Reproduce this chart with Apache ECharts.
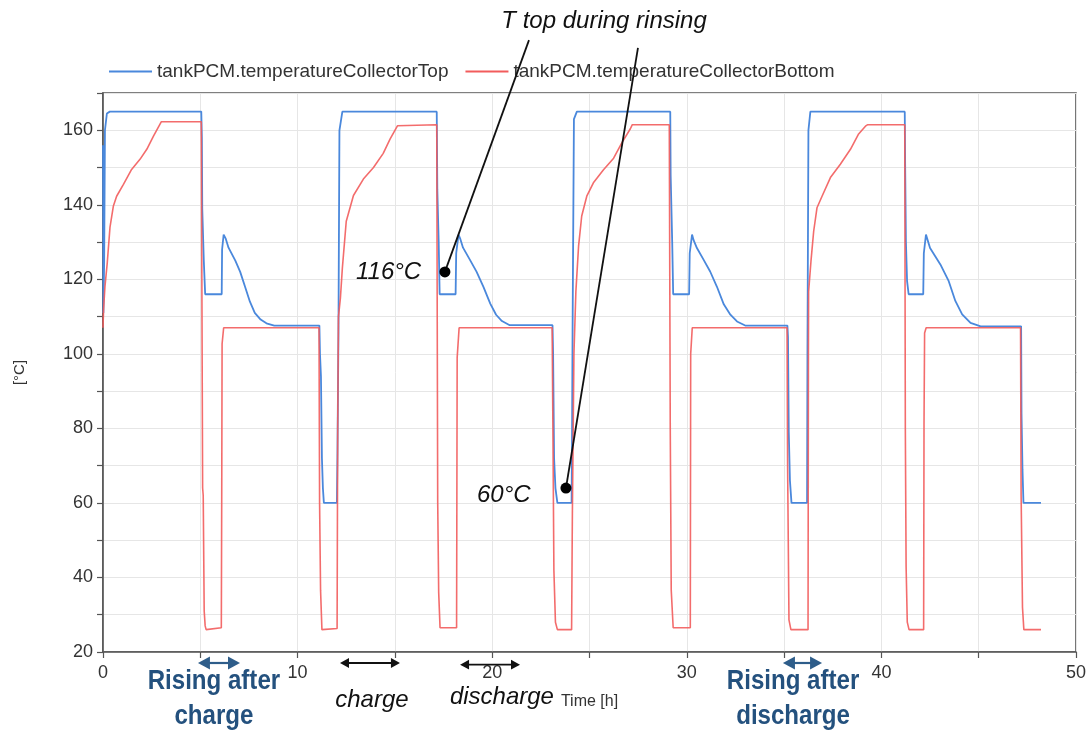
<!DOCTYPE html>
<html>
<head>
<meta charset="utf-8">
<script src="https://cdn.jsdelivr.net/npm/echarts@6/dist/echarts.min.js"></script>
<style>
  html, body { margin: 0; padding: 0; background: #ffffff; }
  #chart { width: 1092px; height: 731px; }
</style>
</head>
<body>
<div id="chart"></div>
<script>
// Series names as they appear in the legend
const seriesNames = ['tankPCM.temperatureCollectorTop', 'tankPCM.temperatureCollectorBottom'];

// Top collector temperature [h, °C]
const topTemp = [
  [0, 156], [0.02, 111], [0.06, 125], [0.1, 160], [0.2, 164.5], [0.35, 165],
  [5.05, 165], [5.08, 158], [5.1, 139], [5.18, 125], [5.25, 116],
  [6.1, 116], [6.12, 128], [6.2, 132], [6.3, 131], [6.45, 128.5], [6.8, 125], [7.05, 122],
  [7.3, 118], [7.55, 114], [7.8, 111], [8.1, 109.2], [8.4, 108.2], [8.8, 107.6],
  [11.12, 107.6], [11.15, 100], [11.2, 94], [11.25, 72], [11.3, 64], [11.35, 60],
  [12.02, 60], [12.05, 74], [12.1, 106], [12.15, 160], [12.3, 165],
  [17.15, 165], [17.18, 144], [17.25, 130], [17.3, 116],
  [18.12, 116], [18.15, 127], [18.27, 132], [18.35, 131], [18.5, 128.5], [18.85, 125.3],
  [19.2, 122], [19.55, 118], [19.9, 113.5], [20.2, 110.5], [20.5, 108.8], [20.9, 107.7],
  [23.1, 107.7], [23.13, 100], [23.18, 72], [23.25, 64], [23.35, 60],
  [24.08, 60], [24.1, 75], [24.13, 106], [24.2, 163], [24.35, 165],
  [29.15, 165], [29.17, 148], [29.25, 130], [29.3, 116],
  [30.12, 116], [30.15, 127], [30.27, 132], [30.35, 130.5], [30.52, 128.4], [30.86, 125.3],
  [31.2, 122.1], [31.55, 118], [31.9, 113.3], [32.24, 110.5], [32.58, 108.7], [33.0, 107.6],
  [35.17, 107.6], [35.2, 104.5], [35.24, 79], [35.3, 66], [35.38, 60],
  [36.18, 60], [36.2, 100], [36.25, 160], [36.35, 165],
  [41.2, 165], [41.22, 151], [41.26, 130], [41.32, 119.5], [41.4, 116],
  [42.15, 116], [42.18, 127], [42.29, 132], [42.5, 128.4], [43.03, 124], [43.46, 119.5],
  [43.8, 114.2], [44.15, 110.6], [44.58, 108.3], [45.1, 107.4],
  [47.18, 107.4], [47.2, 84], [47.25, 69], [47.3, 60], [48.2, 60]
];

// Bottom collector temperature [h, °C]
const bottomTemp = [
  [0, 107], [0.03, 112], [0.1, 118], [0.22, 124.5], [0.36, 134], [0.53, 139.6], [0.7, 142.3],
  [1.05, 145.5], [1.47, 149.5], [1.9, 152.2], [2.25, 154.9], [2.6, 158.5], [3.0, 162.3],
  [5.05, 162.3], [5.08, 120], [5.12, 64], [5.15, 62], [5.2, 31], [5.25, 27], [5.3, 26],
  [6.08, 26.5], [6.1, 60], [6.12, 102.7], [6.2, 107],
  [11.1, 107], [11.13, 60], [11.18, 36.6], [11.25, 26],
  [12.03, 26.3], [12.06, 80], [12.1, 110], [12.2, 115], [12.3, 123], [12.5, 135.6],
  [12.87, 142.5], [13.38, 146.9], [13.9, 150], [14.4, 153.8], [14.75, 157.6], [15.13, 161.2], [15.2, 161.5],
  [17.15, 161.5], [17.2, 60], [17.25, 36], [17.32, 26.5],
  [18.17, 26.5], [18.2, 99], [18.3, 107],
  [23.08, 107], [23.12, 80], [23.17, 42], [23.25, 28], [23.35, 26],
  [24.08, 26], [24.12, 57], [24.2, 100], [24.3, 116.7], [24.44, 129], [24.6, 137], [24.86, 142.3],
  [25.2, 145.9], [25.72, 149.4], [26.24, 152.5], [26.66, 156.6], [27.1, 160.4], [27.2, 161.5],
  [29.1, 161.5], [29.15, 80], [29.2, 36.6], [29.3, 26.5],
  [30.18, 26.5], [30.2, 100], [30.28, 107],
  [35.15, 107], [35.18, 70], [35.25, 28.6], [35.35, 26],
  [36.23, 26], [36.25, 99.4], [36.26, 116.7], [36.38, 124.8], [36.52, 132.9], [36.69, 139.2],
  [36.95, 142.3], [37.38, 147.3], [37.89, 150.9], [38.41, 154.9], [38.83, 159], [39.18, 161.1], [39.3, 161.5],
  [41.2, 161.5], [41.23, 80], [41.27, 42.9], [41.33, 28], [41.42, 26],
  [42.17, 26], [42.19, 81], [42.22, 105.6], [42.3, 107],
  [47.15, 107], [47.18, 62], [47.25, 32], [47.32, 26], [48.2, 26]
];

// Tick labels shown on each axis
const xTickLabels = [0, 10, 20, 30, 40, 50];
const yTickLabels = [20, 40, 60, 80, 100, 120, 140, 160];

// Annotation texts
const rinseTitle = 'T top during rinsing';
const rinseValues = ['116°C', '60°C'];
const phaseTexts = ['Rising after\ncharge', 'charge', 'discharge', 'Rising after\ndischarge'];

const BLUE = '#4a88dc';
const RED = '#f25c5c';
const AXIS = '#555555';
const GRIDLINE = '#e6e6e6';
const NOTE_BLUE = '#24517e';
const BASE_FONT = '"Liberation Sans", Arial, sans-serif';

const chart = echarts.init(document.getElementById('chart'), null, { renderer: 'canvas' });

chart.setOption({
  animation: false,
  backgroundColor: '#ffffff',
  textStyle: { fontFamily: BASE_FONT },
  legend: {
    left: 104, top: 57,
    icon: 'rect', itemWidth: 43, itemHeight: 2, itemGap: 17,
    textStyle: { fontSize: 19, color: '#333333', fontFamily: BASE_FONT },
    data: seriesNames
  },
  grid: {
    left: 103, right: 16, top: 93, bottom: 79,
    show: true, borderColor: AXIS, borderWidth: 1.6, backgroundColor: 'transparent'
  },
  xAxis: {
    type: 'value', min: 0, max: 50, interval: 5,
    name: 'Time [h]', nameLocation: 'middle', nameGap: 42,
    nameTextStyle: { fontSize: 16, color: '#333333' },
    axisLine: { show: true, lineStyle: { color: AXIS, width: 1.6 } },
    axisTick: { show: true, length: 6, lineStyle: { color: AXIS, width: 1.2 } },
    axisLabel: {
      fontSize: 18, color: '#333333', margin: 12,
      formatter: v => (xTickLabels.includes(v) ? String(v) : '')
    },
    splitLine: { show: true, lineStyle: { color: GRIDLINE, width: 1 } }
  },
  yAxis: {
    type: 'value', min: 20, max: 170, interval: 10,
    name: '[°C]', nameLocation: 'middle', nameGap: 76, nameRotate: 90,
    nameTextStyle: { fontSize: 15, color: '#333333' },
    axisLine: { show: true, lineStyle: { color: AXIS, width: 1.6 } },
    axisTick: { show: true, length: 6, lineStyle: { color: AXIS, width: 1.2 } },
    axisLabel: {
      fontSize: 18, color: '#333333', margin: 10,
      formatter: v => (yTickLabels.includes(v) ? String(v) : '')
    },
    splitLine: { show: true, lineStyle: { color: GRIDLINE, width: 1 } }
  },
  series: [
    {
      name: seriesNames[0], type: 'line', data: topTemp,
      symbol: 'none', color: BLUE,
      lineStyle: { color: BLUE, width: 1.8 }
    },
    {
      name: seriesNames[1], type: 'line', data: bottomTemp,
      symbol: 'none', color: RED,
      lineStyle: { color: RED, width: 1.6, opacity: 0.9 }
    }
  ]
});

// Annotations are placed in data coordinates (hours, °C) and converted to pixels
function px(t, v) { return chart.convertToPixel({ gridIndex: 0 }, [t, v]); }

function textAt(t, v, text, font, fill, align, scaleX) {
  const p = px(t, v);
  return {
    type: 'text', x: p[0], y: p[1], z: 100, silent: true,
    scaleX: scaleX || 1,
    style: { text, font, fill, align: align || 'center', verticalAlign: 'middle', lineHeight: 35 }
  };
}

function doubleArrow(t0, t1, v, color, head, width) {
  const a = px(t0, v), b = px(t1, v);
  const hw = head * 0.55;
  return [
    { type: 'line', z: 100, silent: true,
      shape: { x1: a[0] + head * 0.7, y1: a[1], x2: b[0] - head * 0.7, y2: b[1] },
      style: { stroke: color, lineWidth: width } },
    { type: 'polygon', z: 100, silent: true,
      shape: { points: [[a[0], a[1]], [a[0] + head, a[1] - hw], [a[0] + head, a[1] + hw]] },
      style: { fill: color } },
    { type: 'polygon', z: 100, silent: true,
      shape: { points: [[b[0], b[1]], [b[0] - head, b[1] - hw], [b[0] - head, b[1] + hw]] },
      style: { fill: color } }
  ];
}

function pointer(tFrom, vFrom, tDot, vDot) {
  const a = px(tFrom, vFrom), b = px(tDot, vDot);
  return [
    { type: 'line', z: 100, silent: true,
      shape: { x1: a[0], y1: a[1], x2: b[0], y2: b[1] },
      style: { stroke: '#111111', lineWidth: 1.8 } },
    { type: 'circle', z: 101, silent: true,
      shape: { cx: b[0], cy: b[1], r: 5.5 },
      style: { fill: '#000000' } }
  ];
}

const italic = 'italic 24px "Liberation Sans", Arial, sans-serif';
const boldCondensed = 'bold 28px "Liberation Sans", Arial, sans-serif';

const elements = [].concat(
  [textAt(25.75, 189.3, rinseTitle, italic, '#111111')],
  pointer(21.89, 184.2, 17.57, 122.0),
  pointer(27.49, 182.1, 23.79, 64.0),
  [textAt(13.0, 122.0, rinseValues[0], italic, '#111111', 'left')],
  [textAt(19.22, 62.1, rinseValues[1], italic, '#111111', 'left')],
  doubleArrow(4.88, 7.04, 17.05, '#2e5d8a', 12, 2.2),
  doubleArrow(12.18, 15.26, 17.05, '#111111', 9, 1.8),
  doubleArrow(18.35, 21.43, 16.6, '#111111', 9, 1.8),
  doubleArrow(34.94, 36.95, 17.05, '#2e5d8a', 12, 2.2),
  [textAt(5.7, 7.5, phaseTexts[0], boldCondensed, NOTE_BLUE, 'center', 0.86)],
  [textAt(13.82, 7.0, phaseTexts[1], italic, '#111111')],
  [textAt(20.5, 7.9, phaseTexts[2], italic, '#111111')],
  [textAt(35.46, 7.5, phaseTexts[3], boldCondensed, NOTE_BLUE, 'center', 0.86)]
);

chart.setOption({ graphic: { elements } });
</script>
</body>
</html>
